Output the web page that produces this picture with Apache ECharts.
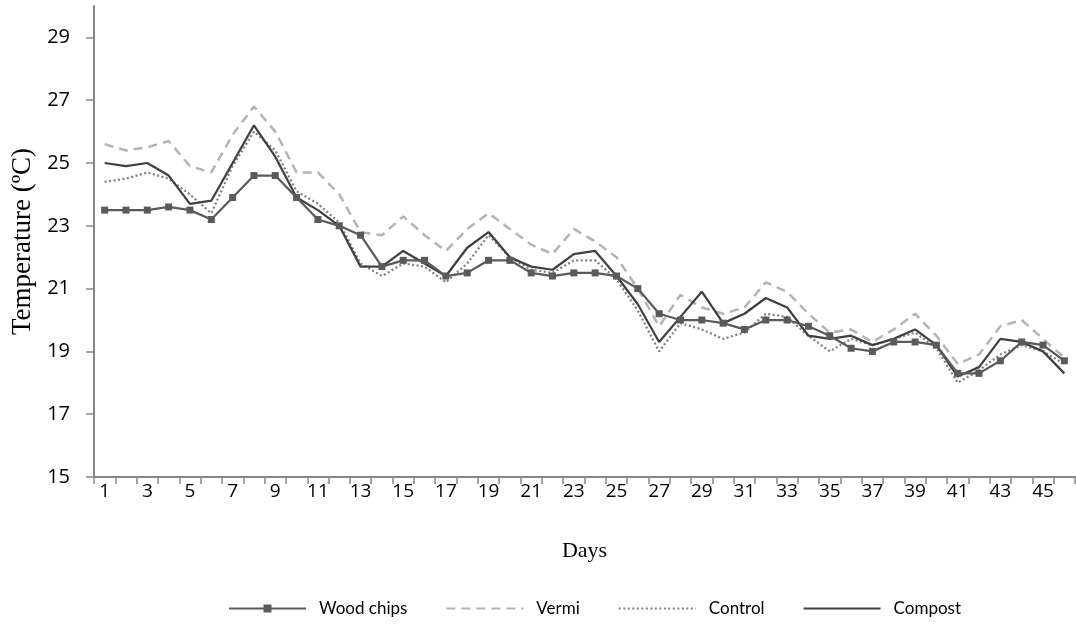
<!DOCTYPE html>
<html>
<head>
<meta charset="utf-8">
<script src="https://cdn.jsdelivr.net/npm/echarts@6/dist/echarts.min.js"></script>
<style>
  html, body { margin: 0; padding: 0; background: #ffffff; }
  #chart { width: 1076px; height: 636px; }
</style>
</head>
<body>
<div id="chart"></div>
<script>
// Daily temperature (°C) over 46 days for four substrate treatments
const days = Array.from({ length: 46 }, (_, i) => String(i + 1));
const yTicks = [15, 17, 19, 21, 23, 25, 27, 29];

const woodChips = [23.5, 23.5, 23.5, 23.6, 23.5, 23.2, 23.9, 24.6, 24.6, 23.9,
  23.2, 23.0, 22.7, 21.7, 21.9, 21.9, 21.4, 21.5, 21.9, 21.9,
  21.5, 21.4, 21.5, 21.5, 21.4, 21.0, 20.2, 20.0, 20.0, 19.9,
  19.7, 20.0, 20.0, 19.8, 19.5, 19.1, 19.0, 19.3, 19.3, 19.2,
  18.3, 18.3, 18.7, 19.3, 19.2, 18.7];
const vermi = [25.6, 25.4, 25.5, 25.7, 24.9, 24.7, 25.9, 26.8, 26.0, 24.7,
  24.7, 24.0, 22.8, 22.7, 23.3, 22.7, 22.2, 22.9, 23.4, 22.9,
  22.4, 22.1, 22.9, 22.5, 22.0, 21.0, 19.8, 20.8, 20.4, 20.2,
  20.4, 21.2, 20.9, 20.2, 19.6, 19.7, 19.3, 19.7, 20.2, 19.5,
  18.6, 18.9, 19.8, 20.0, 19.4, 18.8];
const control = [24.4, 24.5, 24.7, 24.5, 24.0, 23.4, 24.9, 26.0, 25.4, 24.1,
  23.7, 23.1, 21.8, 21.4, 21.8, 21.7, 21.2, 21.8, 22.7, 22.0,
  21.6, 21.5, 21.9, 21.9, 21.3, 20.3, 19.0, 19.9, 19.7, 19.4,
  19.6, 20.2, 20.1, 19.5, 19.0, 19.4, 19.2, 19.4, 19.6, 19.1,
  18.0, 18.4, 18.9, 19.2, 19.0, 18.6];
const compost = [25.0, 24.9, 25.0, 24.6, 23.7, 23.8, 25.0, 26.2, 25.2, 23.9,
  23.5, 23.0, 21.7, 21.7, 22.2, 21.8, 21.4, 22.3, 22.8, 22.0,
  21.7, 21.6, 22.1, 22.2, 21.4, 20.5, 19.3, 20.1, 20.9, 19.9,
  20.2, 20.7, 20.4, 19.5, 19.4, 19.5, 19.2, 19.4, 19.7, 19.2,
  18.2, 18.5, 19.4, 19.3, 19.0, 18.3];

const axisGray = '#878787';
const tickFont = '"Open Sans"';
const legendFont = 'Lato';
const serifFont = '"Liberation Serif", "Times New Roman", serif';

const chart = echarts.init(document.getElementById('chart'), null, { renderer: 'canvas' });

// Lines-only series hide the legend's centre symbol
const hiddenSymbol = { opacity: 0 };

chart.setOption({
  animation: false,
  backgroundColor: '#ffffff',
  grid: { left: 94, right: 1, top: 6, bottom: 159, containLabel: false, outerBoundsMode: 'none' },
  legend: {
    left: 228,
    top: 600,
    padding: 0,
    itemWidth: 77,
    itemHeight: 10,
    itemGap: 38,
    textStyle: { fontFamily: legendFont, fontSize: 17, color: '#000000', padding: [0, 0, 0, 8] },
    data: [
      { name: 'Wood chips' },
      { name: 'Vermi', itemStyle: hiddenSymbol },
      { name: 'Control', itemStyle: hiddenSymbol },
      { name: 'Compost', itemStyle: hiddenSymbol }
    ]
  },
  xAxis: {
    type: 'category',
    data: days,
    boundaryGap: true,
    name: 'Days',
    nameLocation: 'middle',
    nameGap: 63,
    nameTextStyle: { fontFamily: serifFont, fontSize: 22, color: '#000000' },
    axisLine: { lineStyle: { color: axisGray, width: 2 } },
    axisTick: { show: true, interval: 0, length: 7, lineStyle: { color: axisGray, width: 1.5 } },
    axisLabel: { interval: 1, margin: 5, fontFamily: tickFont, fontSize: 19, color: '#000000' },
    splitLine: { show: false }
  },
  yAxis: {
    type: 'value',
    min: 15,
    max: 30,
    interval: 1,
    name: 'Temperature (ºC)',
    nameLocation: 'middle',
    nameGap: 57,
    nameRotate: 90,
    nameTextStyle: { fontFamily: serifFont, fontSize: 27, color: '#000000' },
    axisLine: { show: true, lineStyle: { color: axisGray, width: 2 } },
    axisTick: { show: true, length: 8, customValues: yTicks, lineStyle: { color: axisGray, width: 1.5 } },
    axisLabel: { customValues: yTicks, margin: 24, fontFamily: tickFont, fontSize: 20, color: '#000000' },
    splitLine: { show: false }
  },
  series: [
    {
      name: 'Wood chips',
      type: 'line',
      data: woodChips,
      symbol: 'rect',
      symbolSize: 7,
      showAllSymbol: true,
      itemStyle: { color: '#5a5a5a' },
      lineStyle: { color: '#5a5a5a', width: 2.25 },
      z: 4
    },
    {
      name: 'Vermi',
      type: 'line',
      data: vermi,
      symbol: 'none',
      itemStyle: { color: '#b3b3b3' },
      lineStyle: { color: '#b3b3b3', width: 2.5, type: [9, 6] },
      z: 1
    },
    {
      name: 'Control',
      type: 'line',
      data: control,
      symbol: 'none',
      itemStyle: { color: '#7f7f7f' },
      lineStyle: { color: '#7f7f7f', width: 2.25, type: [2, 2.5] },
      z: 2
    },
    {
      name: 'Compost',
      type: 'line',
      data: compost,
      symbol: 'none',
      itemStyle: { color: '#404040' },
      lineStyle: { color: '#404040', width: 2.25 },
      z: 3
    }
  ]
});
</script>
</body>
</html>
